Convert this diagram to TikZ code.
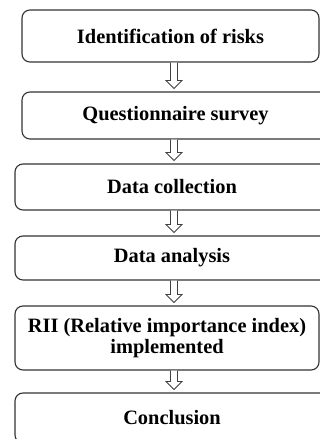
\documentclass[tikz,border=0pt]{standalone}
\usepackage{fontspec}
\setmainfont{Liberation Serif}
\usetikzlibrary{calc}
\tikzset{
  stage/.style={draw=black!80, line width=1.1pt, rounded corners=8pt,
    inner sep=0pt, align=center,
    font=\fontsize{20.4}{21}\selectfont\bfseries},
  arrowline/.style={draw=black!75, line width=0.8pt, fill=white, line join=miter},
}
% hollow block arrow from the bottom of #1 to the top of #2
\newcommand\hollowarrow[2]{%
  \draw[arrowline] let \p1=(#1.south), \p2=(#2.north) in
    ({174pt-3.5pt},\y1) -- ({174pt-3.5pt},{\y2+11pt}) -- ({174pt-8pt},{\y2+11pt})
    -- (174pt,{\y2+3pt}) -- ({174pt+8pt},{\y2+11pt}) -- ({174pt+3.5pt},{\y2+11pt})
    -- ({174pt+3.5pt},\y1);
}
\begin{document}
\begin{tikzpicture}[x=1pt,y=-1pt]
  \useasboundingbox (0,0) rectangle (320,439);
  \node[stage, minimum width=297pt, minimum height=52pt] (s1) at (170.5,36) {Identification of risks};
  \node[stage, minimum width=307pt, minimum height=47pt] (s2) at (175.5,115.5) {Questionnaire survey};
  \node[stage, minimum width=314pt, minimum height=46pt] (s3) at (172,187) {Data collection};
  \node[stage, minimum width=314pt, minimum height=44pt] (s4) at (172,258) {Data analysis};
  \node[stage, minimum width=304pt, minimum height=64pt] (s5) at (167,338) {RII (Relative importance index)\\implemented};
  \node[stage, minimum width=314pt, minimum height=50pt] (s6) at (172,418) {Conclusion};
  \hollowarrow{s1}{s2}
  \hollowarrow{s2}{s3}
  \hollowarrow{s3}{s4}
  \hollowarrow{s4}{s5}
  \hollowarrow{s5}{s6}
\end{tikzpicture}
\end{document}
